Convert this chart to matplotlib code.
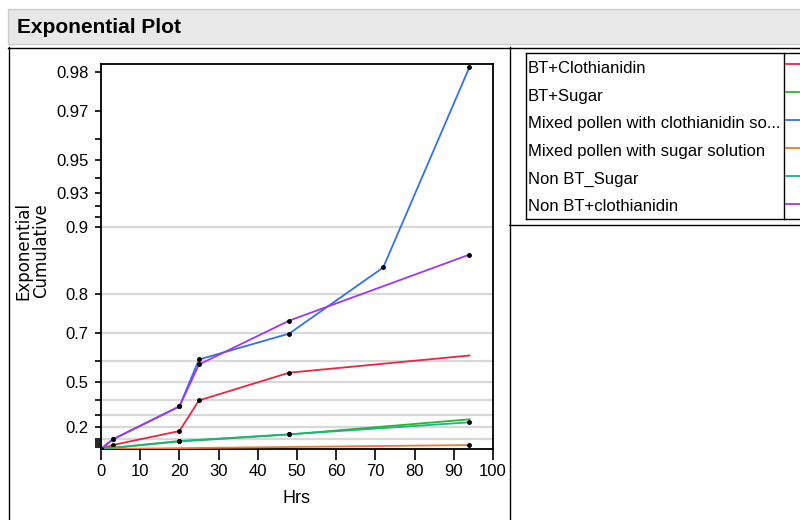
import matplotlib
matplotlib.use('Agg')
import matplotlib.pyplot as plt
import numpy as np
from matplotlib.lines import Line2D
from matplotlib.patches import Rectangle

sans = 'Liberation Sans'

# Daten: kumulative Anteile je Gruppe ueber die Zeit (Std.)
groups = ['BT+Clothianidin', 'BT+Sugar', 'Mixed pollen with clothianidin so...',
          'Mixed pollen with sugar solution', 'Non BT_Sugar', 'Non BT+clothianidin']
colors = ['#e8283f', '#2bb52b', '#3470ee', '#f07a26', '#1db47e', '#a036f0']

hrs_bt_cloth = [0, 3, 20, 25, 48, 94]
cum_bt_cloth = [0, 0.04, 0.17, 0.396, 0.547, 0.621]

hrs_bt_sugar = [0, 20, 48, 94]
cum_bt_sugar = [0, 0.075, 0.14, 0.265]

hrs_mix_cloth = [0, 3, 20, 25, 48, 72, 94]
cum_mix_cloth = [0, 0.095, 0.357, 0.605, 0.698, 0.848, 0.981]

hrs_mix_sugar = [0, 94]
cum_mix_sugar = [0, 0.04]

hrs_non_sugar = [0, 20, 48, 94]
cum_non_sugar = [0, 0.08, 0.141, 0.242]

hrs_non_cloth = [0, 3, 20, 25, 48, 94]
cum_non_cloth = [0, 0.095, 0.357, 0.584, 0.736, 0.867]

# (x, y, letzter Punkt mit Marker?)
series = [(hrs_bt_cloth, cum_bt_cloth, False),
          (hrs_bt_sugar, cum_bt_sugar, False),
          (hrs_mix_cloth, cum_mix_cloth, True),
          (hrs_mix_sugar, cum_mix_sugar, True),
          (hrs_non_sugar, cum_non_sugar, True),
          (hrs_non_cloth, cum_non_cloth, True)]

y_labeled = [0.2, 0.5, 0.7, 0.8, 0.9, 0.93, 0.95, 0.97, 0.98]
y_minor = [0.02, 0.04, 0.06, 0.08, 0.1, 0.3, 0.4, 0.6, 0.91, 0.92, 0.94, 0.96]
grid_levels = [0.1, 0.2, 0.3, 0.4, 0.5, 0.6, 0.7, 0.8, 0.9]
x_ticks = list(range(0, 101, 10))


# Exponentialskala: -ln(1 - p)
def fwd(p):
    p = np.clip(np.asarray(p, dtype=float), -1, 0.99999)
    return -np.log(1 - p)


def inv(t):
    return 1 - np.exp(-np.asarray(t, dtype=float))


W, H = 800, 520
fig = plt.figure(figsize=(W / 100, H / 100), dpi=100)


def fx(x):
    return x / W


def fy(y):
    return 1 - y / H


# Kopfzeile
fig.add_artist(Rectangle((fx(8), fy(44)), fx(800), 35 / H, transform=fig.transFigure,
                         facecolor='#e8e8e8', edgecolor='#cccccc', lw=1))
fig.text(fx(17), fy(33), 'Exponential Plot', family=sans, weight='bold',
         fontsize=15, va='baseline', ha='left')

# Rahmen
frame = [((8, 800), (47.5, 47.5)), ((8.5, 8.5), (47, 520)), ((509.5, 509.5), (47, 520)),
         ((509, 800), (225, 225)), ((526, 800), (52.5, 52.5)), ((526, 800), (219, 219)),
         ((526, 526), (52.5, 219)), ((783.5, 783.5), (52.5, 219))]
for xs, ys in frame:
    fig.add_artist(Line2D([fx(x) for x in xs], [fy(y) for y in ys], color='black',
                          lw=1, transform=fig.transFigure))

# Legende
for i, (g, c) in enumerate(zip(groups, colors)):
    fig.text(fx(528), fy(73 + 27.6 * i), g, family=sans, fontsize=12,
             va='baseline', ha='left')
    yy = 64 + 28 * i
    fig.add_artist(Line2D([fx(786), fx(800)], [fy(yy), fy(yy)], color=c, lw=1.3,
                          transform=fig.transFigure))

ax = fig.add_axes([fx(101), 1 - 449 / H, 392 / W, 385 / H])
ax.set_yscale('function', functions=(fwd, inv))
ax.set_xlim(0, 100)
ax.set_ylim(0, 0.9816)

for lv in grid_levels:
    ax.axhline(lv, color='#d8d8d8', lw=1.6, zorder=0)

for (h, v, mark_last), c in zip(series, colors):
    n = len(h) if mark_last else len(h) - 1
    ax.plot(h, v, color=c, lw=1.3, marker='o', ms=2.5, mfc='black', mec='black',
            markevery=list(range(n)), zorder=3)

ax.set_yticks(y_labeled)
ax.set_yticklabels([str(v) for v in y_labeled])
ax.set_yticks(y_minor, minor=True)
ax.set_xticks(x_ticks)
ax.tick_params(axis='y', which='both', length=4, width=1.2, pad=5, direction='out')
ax.tick_params(axis='x', length=8, width=1.2, pad=3, direction='out')
for lab in ax.get_xticklabels() + ax.get_yticklabels():
    lab.set_family(sans)
    lab.set_fontsize(12)
for s in ax.spines.values():
    s.set_linewidth(1.3)

fig.text(fx(297), fy(503), 'Hrs', family=sans, fontsize=13, ha='center', va='baseline')
fig.text(fx(32), fy(251), 'Exponential\nCumulative', rotation=90, fontsize=12,
         linespacing=1.0, ha='center', va='center', multialignment='center')

fig.savefig('out.png', dpi=100)
